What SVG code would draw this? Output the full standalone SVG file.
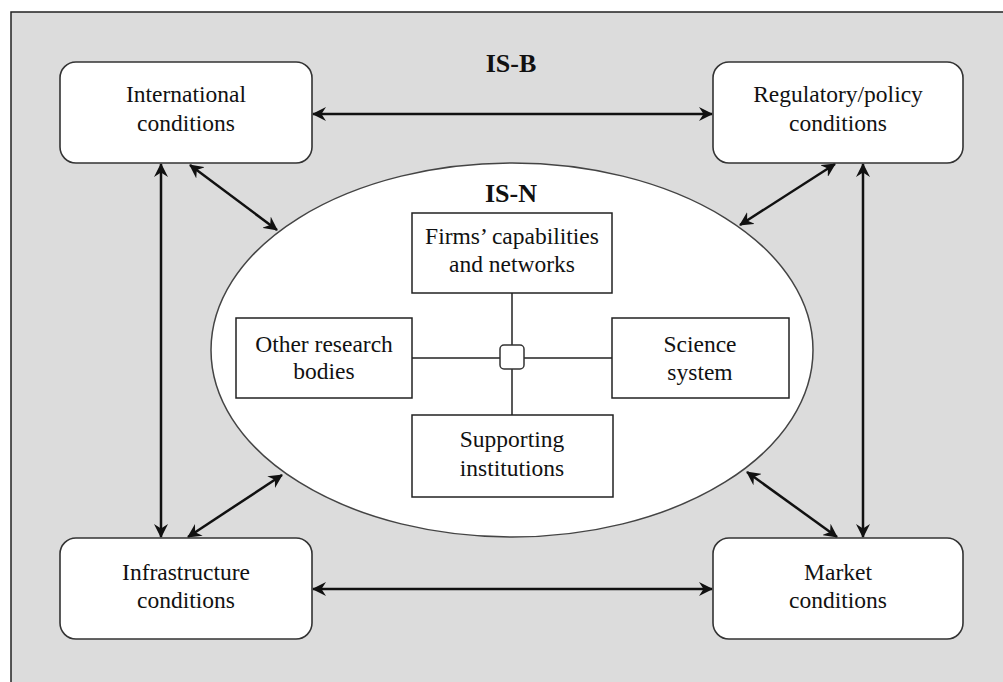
<svg xmlns="http://www.w3.org/2000/svg" width="1003" height="682" viewBox="0 0 1003 682">
<style>
.t{font-family:"Liberation Serif","Times New Roman",serif;font-size:23.5px;fill:#111;text-anchor:middle}
.b{font-family:"Liberation Serif","Times New Roman",serif;font-size:26px;font-weight:bold;fill:#111;text-anchor:middle}
.ob{fill:#fff;stroke:#333;stroke-width:1.6}
.ib{fill:#fff;stroke:#222;stroke-width:1.5}
.c{stroke:#111;stroke-width:2.5;fill:none;marker-start:url(#a);marker-end:url(#a)}
.l{stroke:#222;stroke-width:1.5;fill:none}
</style>
<defs>
<marker id="a" viewBox="0 0 14 14" refX="13" refY="7" markerWidth="14" markerHeight="14" markerUnits="userSpaceOnUse" orient="auto-start-reverse">
<path d="M0,0 L14,7 L0,14 L4.5,7 z" fill="#111"/>
</marker>
</defs>
<rect x="0" y="0" width="1003" height="682" fill="#fff"/>
<rect id="frame" x="11" y="12" width="1000" height="680" fill="#dcdcdc" stroke="#222" stroke-width="1.5"/>
<text class="b" x="511" y="72">IS-B</text>
<g id="connectors">
<line class="c" x1="313" y1="114" x2="712" y2="114"/>
<line class="c" x1="313" y1="589" x2="712" y2="589"/>
<line class="c" x1="161" y1="164" x2="161" y2="537"/>
<line class="c" x1="863" y1="164" x2="863" y2="537"/>
<line class="c" x1="190" y1="165" x2="277" y2="230"/>
<line class="c" x1="835" y1="164" x2="740" y2="225"/>
<line class="c" x1="282" y1="475" x2="188" y2="537"/>
<line class="c" x1="747" y1="472" x2="837" y2="537"/>
</g>
<g id="international">
<rect class="ob" x="60" y="62" width="252" height="101" rx="16"/>
<text class="t" x="186" y="102">International</text>
<text class="t" x="186" y="131">conditions</text>
</g>
<g id="regulatory">
<rect class="ob" x="713" y="62" width="250" height="101" rx="16"/>
<text class="t" x="838" y="102">Regulatory/policy</text>
<text class="t" x="838" y="131">conditions</text>
</g>
<g id="infrastructure">
<rect class="ob" x="60" y="538" width="252" height="101" rx="16"/>
<text class="t" x="186" y="580">Infrastructure</text>
<text class="t" x="186" y="608">conditions</text>
</g>
<g id="market">
<rect class="ob" x="713" y="538" width="250" height="101" rx="16"/>
<text class="t" x="838" y="580">Market</text>
<text class="t" x="838" y="608">conditions</text>
</g>
<g id="is-n">
<ellipse cx="512" cy="350" rx="301" ry="187" fill="#fff" stroke="#444" stroke-width="1.5"/>
<text class="b" x="511" y="202">IS-N</text>
</g>
<g id="links">
<line class="l" x1="512" y1="293" x2="512" y2="345"/>
<line class="l" x1="512" y1="369" x2="512" y2="415"/>
<line class="l" x1="412" y1="358" x2="500" y2="358"/>
<line class="l" x1="524" y1="358" x2="612" y2="358"/>
</g>
<g id="hub">
<rect x="500" y="345" width="24" height="24" rx="4" fill="#fff" stroke="#333" stroke-width="1.5"/>
</g>
<g id="firms">
<rect class="ib" x="412" y="213" width="200" height="80"/>
<text class="t" x="512" y="244">Firms’ capabilities</text>
<text class="t" x="512" y="272">and networks</text>
</g>
<g id="other">
<rect class="ib" x="236" y="318" width="176" height="80"/>
<text class="t" x="324" y="352">Other research</text>
<text class="t" x="324" y="379">bodies</text>
</g>
<g id="science">
<rect class="ib" x="612" y="318" width="177" height="80"/>
<text class="t" x="700" y="352">Science</text>
<text class="t" x="700" y="380">system</text>
</g>
<g id="supporting">
<rect class="ib" x="412" y="415" width="201" height="82"/>
<text class="t" x="512" y="447">Supporting</text>
<text class="t" x="512" y="476">institutions</text>
</g>
</svg>
